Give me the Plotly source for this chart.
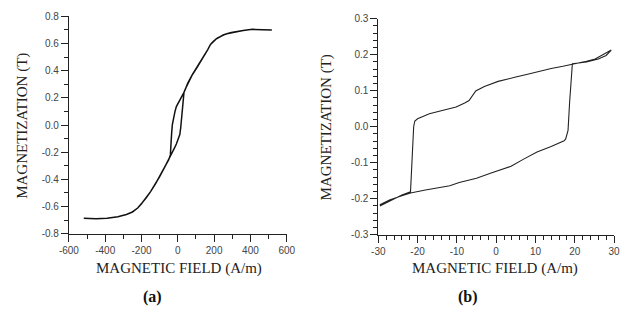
import plotly.graph_objects as go

# ---------- data: panel (a) ----------
a_asc_h = [-518, -450, -390, -330, -283, -250, -221, -200, -176, -150, -123, -100, -70, -50, -37,
           -25, -16, -8, -2, 5, 11, 16, 20, 26, 31, 34, 45, 55, 80, 108, 130, 150, 165, 180, 195, 210, 222,
           233, 250, 270, 295, 322, 360, 411, 460, 518]
a_asc_m = [-0.687, -0.69, -0.687, -0.675, -0.658, -0.64, -0.611, -0.58, -0.54, -0.49, -0.434, -0.38, -0.304, -0.255, -0.22,
           -0.19, -0.163, -0.14, -0.116, -0.095, -0.07, -0.02, 0.05, 0.14, 0.2, 0.24, 0.275, 0.309, 0.37, 0.428, 0.475, 0.52, 0.555, 0.593, 0.615, 0.632, 0.643,
           0.651, 0.662, 0.672, 0.68, 0.687, 0.695, 0.704, 0.703, 0.699]
a_des_h = [518, 460, 411, 360, 322, 295, 270, 250, 233, 222, 210, 195, 180, 165, 150, 130, 108, 80, 55, 45,
           34, 28, 20, 10, 2, -8, -16, -24, -30, -34, -37, -39, -41, -50, -70, -100, -123, -150, -176, -200, -221,
           -250, -283, -330, -390, -450, -518]
a_des_m = [0.699, 0.703, 0.704, 0.695, 0.687, 0.68, 0.672, 0.662, 0.651, 0.643, 0.632, 0.615, 0.593, 0.555, 0.52, 0.475, 0.428, 0.37, 0.309, 0.275,
           0.24, 0.225, 0.205, 0.185, 0.168, 0.135, 0.097, 0.05, 0.003, -0.06, -0.14, -0.19, -0.22, -0.255, -0.304, -0.38, -0.434, -0.49, -0.54, -0.58, -0.611,
           -0.64, -0.658, -0.675, -0.687, -0.69, -0.687]

# ---------- data: panel (b) ----------
b_asc_h = [-29.6, -27, -24, -21.8, -18, -14, -11.8, -9.4, -5, -1.1, 3.8, 7, 10.4, 14, 17.3,
           17.7, 18.3, 18.7, 19.1, 19.4, 21, 23, 26, 28, 29.3]
b_asc_m = [-0.217, -0.203, -0.192, -0.184, -0.176, -0.168, -0.164, -0.155, -0.143, -0.128, -0.11, -0.09, -0.07, -0.055, -0.039,
           -0.034, -0.01, 0.068, 0.13, 0.175, 0.177, 0.18, 0.188, 0.198, 0.213]
b_des_h = [29.3, 27, 25.2, 23, 20.3, 17, 14, 11.1, 8.8, 5, 0.5, -3, -5.2, -6.9, -8, -10.2, -13.5, -17, -20.0, -20.7,
           -21.0, -21.3, -21.6, -21.8, -24, -27, -29.6]
b_des_m = [0.213, 0.2, 0.188, 0.182, 0.175, 0.168, 0.162, 0.155, 0.148, 0.138, 0.126, 0.112, 0.0995, 0.073, 0.066, 0.055, 0.046, 0.036, 0.022, 0.016,
           0.0, -0.06, -0.13, -0.181, -0.19, -0.205, -0.22]

# ---------- tick labels ----------
a_xticks = [-600, -400, -200, 0, 200, 400, 600]
a_xlabels = ["-600", "-400", "-200", "0", "200", "400", "600"]
a_yticks = [-0.8, -0.6, -0.4, -0.2, 0.0, 0.2, 0.4, 0.6, 0.8]
a_ylabels = ["-0.8", "-0.6", "-0.4", "-0.2", "0.0", "0.2", "0.4", "0.6", "0.8"]
b_xticks = [-30, -20, -10, 0, 10, 20, 30]
b_xlabels = ["-30", "-20", "-10", "0", "10", "20", "30"]
b_yticks = [-0.3, -0.2, -0.1, 0.0, 0.1, 0.2, 0.3]
b_ylabels = ["-0.3", "-0.2", "-0.1", "0.0", "0.1", "0.2", "0.3"]

W, H = 633, 316

fig = go.Figure()
fig.add_trace(go.Scatter(x=a_asc_h + a_des_h, y=a_asc_m + a_des_m, mode="lines",
                         line=dict(color="#111", width=1.5),
                         xaxis="x", yaxis="y", showlegend=False, hoverinfo="skip"))
fig.add_trace(go.Scatter(x=b_asc_h + b_des_h, y=b_asc_m + b_des_m, mode="lines",
                         line=dict(color="#222", width=1.1),
                         xaxis="x2", yaxis="y2", showlegend=False, hoverinfo="skip"))

tickfont = dict(family="Liberation Sans", size=10, color="#444")
common = dict(showline=True, linecolor="#222", linewidth=1, showgrid=False, zeroline=False,
              ticks="outside", ticklen=7, tickwidth=1, tickcolor="#222", tickfont=tickfont,
              mirror=False, tickmode="array", fixedrange=True)

def px_x(p):
    return p / W

def px_y(p):
    return 1 - p / H

fig.update_layout(
    width=W, height=H, margin=dict(l=0, r=0, t=0, b=0),
    paper_bgcolor="white", plot_bgcolor="white",
    xaxis=dict(domain=[px_x(60.7), px_x(285.3)], range=[-600, 600], anchor="y",
               tickvals=a_xticks, ticktext=a_xlabels,
               minor=dict(dtick=100, ticks="outside", ticklen=4, tickcolor="#222"), **common),
    yaxis=dict(domain=[px_y(236.7), px_y(10.7)], range=[-0.8, 0.8], anchor="x",
               tickvals=a_yticks, ticktext=a_ylabels,
               minor=dict(dtick=0.1, ticks="outside", ticklen=4, tickcolor="#222"), **common),
    xaxis2=dict(domain=[px_x(379.7), px_x(622.7)], range=[-30, 30], anchor="y2",
                tickvals=b_xticks, ticktext=b_xlabels,
                minor=dict(dtick=2, ticks="outside", ticklen=4, tickcolor="#222"), **common),
    yaxis2=dict(domain=[px_y(237.7), px_y(13.3)], range=[-0.3, 0.3], anchor="x2",
                tickvals=b_yticks, ticktext=b_ylabels,
                minor=dict(dtick=0.02, ticks="outside", ticklen=4, tickcolor="#222"), **common),
)

serif = "Liberation Serif"
tfont = dict(family=serif, size=15, color="#222")
ann = []
ann.append(dict(text="MAGNETIC FIELD (A/m)", x=px_x(174.5), y=px_y(273), xref="paper", yref="paper",
                showarrow=False, font=tfont, xanchor="center", yanchor="middle"))
ann.append(dict(text="MAGNETIC FIELD (A/m)", x=px_x(500), y=px_y(273), xref="paper", yref="paper",
                showarrow=False, font=tfont, xanchor="center", yanchor="middle"))
ann.append(dict(text="MAGNETIZATION (T)", x=px_x(13), y=px_y(125), xref="paper", yref="paper", textangle=-90,
                showarrow=False, font=tfont, xanchor="center", yanchor="middle"))
ann.append(dict(text="MAGNETIZATION (T)", x=px_x(326), y=px_y(126), xref="paper", yref="paper", textangle=-90,
                showarrow=False, font=tfont, xanchor="center", yanchor="middle"))
ann.append(dict(text="<b>(a)</b>", x=px_x(146.5), y=px_y(303), xref="paper", yref="paper",
                showarrow=False, font=dict(family=serif, size=16, color="#111"), xanchor="center", yanchor="middle"))
ann.append(dict(text="<b>(b)</b>", x=px_x(472), y=px_y(303), xref="paper", yref="paper",
                showarrow=False, font=dict(family=serif, size=16, color="#111"), xanchor="center", yanchor="middle"))
fig.update_layout(annotations=ann)

fig.write_html("out.html")
